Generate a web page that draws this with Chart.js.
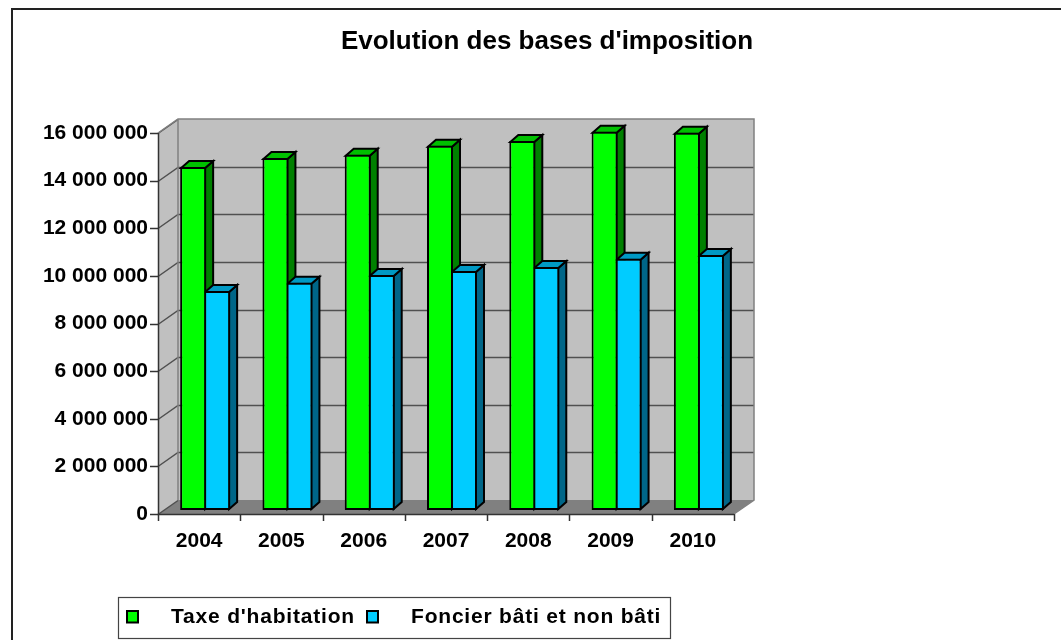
<!DOCTYPE html>
<html><head><meta charset="utf-8">
<script src="https://cdn.jsdelivr.net/npm/chart.js@4"></script>
<style>html,body{margin:0;padding:0;background:#fff}#w{position:relative;width:1061px;height:640px}canvas{display:block}</style>
</head><body><div id="w"><canvas id="c" width="1061" height="640"></canvas></div>
<script>
const categories = ['2004','2005','2006','2007','2008','2009','2010'];
const taxeHabitation = [14400000,14780000,14920000,15300000,15500000,15880000,15840000];
const foncier = [9200000,9540000,9870000,10040000,10200000,10550000,10710000];
const yTicks = [0,2000000,4000000,6000000,8000000,10000000,12000000,14000000,16000000];
const titleText = "Evolution des bases d'imposition";
const seriesNames = ["Taxe d'habitation","Foncier bâti et non bâti"];
const fontFam = '"Liberation Sans", Arial, sans-serif';
const DX=20, DY=-14, BX=6, BY=-4, SX=8, SY=-7;
const faces=[{side:'#008000',top:'#00c000'},{side:'#006688',top:'#0099c4'}];

function poly(ctx,pts,fill,stroke,lw){ctx.beginPath();pts.forEach((p,i)=>i?ctx.lineTo(p[0],p[1]):ctx.moveTo(p[0],p[1]));ctx.closePath();
 if(fill){ctx.fillStyle=fill;ctx.fill();} if(stroke){ctx.strokeStyle=stroke;ctx.lineWidth=lw;ctx.lineJoin='miter';ctx.stroke();}}

const scene={id:'scene',
 afterLayout(ch){ch.titleBlock.left+=180;ch.titleBlock.right+=180;},
 beforeDraw(ch){const c=ch.ctx;c.save();c.fillStyle='#fff';c.fillRect(0,0,1061,640);
  c.strokeStyle='#222';c.lineWidth=2;c.beginPath();c.moveTo(12,640);c.lineTo(12,9);c.lineTo(1061,9);c.stroke();c.restore();},
 beforeDatasetsDraw(ch){
  const c=ch.ctx,a=ch.chartArea,y=ch.scales.y;
  const L=a.left,R=a.right,T=a.top,B=a.bottom;
  c.save();
  poly(c,[[L,T],[L+DX,T+DY],[L+DX,B+DY],[L,B]],'#c0c0c0');
  poly(c,[[L+DX,T+DY],[R+DX,T+DY],[R+DX,B+DY],[L+DX,B+DY]],'#c0c0c0');
  poly(c,[[L,B],[L+DX,B+DY],[R+DX,B+DY],[R,B]],'#808080');
  c.lineWidth=1.5;c.strokeStyle='#505050';
  yTicks.forEach(v=>{const p=Math.round(y.getPixelForValue(v))+.5;
   c.beginPath();c.moveTo(L,p);c.lineTo(L+DX,p+DY);if(v>0&&v<yTicks[yTicks.length-1])c.lineTo(R+DX,p+DY);c.stroke();});
  c.lineWidth=1.5;c.strokeStyle='#808080';
  c.beginPath();c.moveTo(L,T);c.lineTo(L+DX,T+DY);c.lineTo(R+DX,T+DY);c.lineTo(R+DX,B+DY);c.lineTo(R,B);c.moveTo(L+DX,T+DY);c.lineTo(L+DX,B+DY);c.stroke();
  c.lineWidth=1.5;c.strokeStyle='#333';
  c.beginPath();c.moveTo(L+.5,T);c.lineTo(L+.5,B+.5);c.lineTo(R,B+.5);c.stroke();
  yTicks.forEach(v=>{const p=Math.round(y.getPixelForValue(v))+.5;c.beginPath();c.moveTo(L-8,p);c.lineTo(L,p);c.stroke();});
  for(let i=0;i<=categories.length;i++){const p=Math.round(L+(R-L)*i/categories.length)+.5;c.beginPath();c.moveTo(p,B);c.lineTo(p,B+7);c.stroke();}
  c.translate(BX,BY);
  [0,1].forEach(d=>{ch.getDatasetMeta(d).data.forEach(el=>{
    const p=el.getProps(['x','y','base','width'],true);
    const l=p.x-p.width/2+1,r=p.x+p.width/2-1,t=p.y+1,b=p.base-1;
    poly(c,[[r,t],[r+SX,t+SY],[r+SX,b+SY],[r,b]],faces[d].side,'#000',2);
    poly(c,[[l,t],[l+SX,t+SY],[r+SX,t+SY],[r,t]],faces[d].top,'#000',2);
  });});
 },
 afterDatasetsDraw(ch){ch.ctx.restore();},
 afterDraw(ch){
  const c=ch.ctx;c.save();
  c.fillStyle='#fff';c.strokeStyle='#444';c.lineWidth=1.2;c.fillRect(118,597,553,41);c.strokeRect(118.5,597.5,552,41);
  poly(c,[[127,611],[138,611],[138,622.5],[127,622.5]],'#00ff00','#000',2);
  poly(c,[[367,611],[378,611],[378,622.5],[367,622.5]],'#00ccff','#000',2);
  c.fillStyle='#000';c.font='bold 21px '+fontFam;c.textBaseline='alphabetic';
  c.letterSpacing='0.8px';
  c.fillText(seriesNames[0],171,623);c.fillText(seriesNames[1],411,623);
  c.restore();
 }};

new Chart(document.getElementById('c'),{
 type:'bar',
 data:{labels:categories,datasets:[
  {label:seriesNames[0],data:taxeHabitation,backgroundColor:'#00ff00',borderColor:'#000',borderWidth:2,borderSkipped:false},
  {label:seriesNames[1],data:foncier,backgroundColor:'#00ccff',borderColor:'#000',borderWidth:2,borderSkipped:false}]},
 options:{responsive:false,animation:false,
  layout:{padding:{left:0,top:0,right:327,bottom:0}},
  datasets:{bar:{categoryPercentage:48/82.3,barPercentage:26/24,clip:false}},
  plugins:{legend:{display:false},tooltip:{enabled:false},
   title:{display:true,text:titleText,color:'#000',font:{family:fontFam,size:26,weight:'bold'},padding:{top:26,bottom:75.8}}},
  scales:{
   x:{grid:{display:false},border:{display:false},offset:true,
      ticks:{color:'#000',font:{family:fontFam,size:21,weight:'bold'},padding:7,maxRotation:0},
      afterFit(s){s.height=640-514;}},
   y:{min:0,max:16000000,grid:{display:false},border:{display:false},
      afterBuildTicks(s){s.ticks=yTicks.map(v=>({value:v}));},
      ticks:{color:'#000',font:{family:fontFam,size:21,weight:'bold'},padding:2,
             callback:v=>String(v).replace(/\B(?=(\d{3})+$)/g,' ')},
      afterFit(s){s.width=158;}}}
 },
 plugins:[scene]});
</script></body></html>
